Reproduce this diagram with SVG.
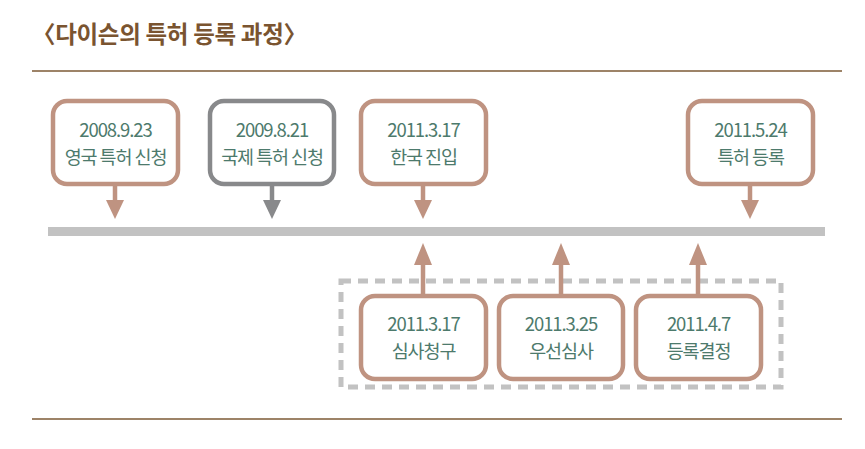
<svg xmlns="http://www.w3.org/2000/svg" width="865" height="449" viewBox="0 0 865 449">
<style>
.t{font-family:"Noto Sans CJK KR","Noto Sans",sans-serif;font-size:18.5px;fill:#4d7a6c;text-anchor:middle;letter-spacing:-1.1px}
.b{fill:#fff;stroke:#bf9381;stroke-width:4.5}
.g{fill:#fff;stroke:#88898b;stroke-width:4.5}
.ls{stroke:#bf9381;stroke-width:4.5}
.gs{stroke:#88898b;stroke-width:4.5}
</style>
<rect width="865" height="449" fill="#fff"/>
<text x="32" y="43" font-family="'Noto Sans CJK KR',sans-serif" font-size="23.5" font-weight="bold" fill="#7a5430" letter-spacing="-0.3">〈다이슨의 특허 등록 과정〉</text>
<line x1="32" y1="71" x2="842" y2="71" stroke="#7d5a36" stroke-width="1.4"/>
<line x1="32" y1="419" x2="842" y2="419" stroke="#7d5a36" stroke-width="1.4"/>
<rect x="48" y="227" width="777" height="9" fill="#c2c2c2"/>
<rect x="341" y="281" width="440" height="106" fill="none" stroke="#c2c2c2" stroke-width="5" stroke-dasharray="10 7"/>
<g id="connectors">
<line class="ls" x1="115" y1="184" x2="115" y2="202"/><polygon points="106,200 124,200 115,219" fill="#bf9381"/>
<line class="gs" x1="272" y1="184" x2="272" y2="202"/><polygon points="263,200 281,200 272,219" fill="#88898b"/>
<line class="ls" x1="423" y1="184" x2="423" y2="202"/><polygon points="414,200 432,200 423,219" fill="#bf9381"/>
<line class="ls" x1="750" y1="184" x2="750" y2="202"/><polygon points="741,200 759,200 750,219" fill="#bf9381"/>
<line class="ls" x1="423" y1="296" x2="423" y2="262"/><polygon points="414,265 432,265 423,243" fill="#bf9381"/>
<line class="ls" x1="561" y1="296" x2="561" y2="262"/><polygon points="552,265 570,265 561,243" fill="#bf9381"/>
<line class="ls" x1="698" y1="296" x2="698" y2="262"/><polygon points="689,265 707,265 698,243" fill="#bf9381"/>
</g>
<g id="n1"><rect class="b" x="53" y="101" width="125" height="83" rx="14"/><text class="t" x="115.5" y="137">2008.9.23</text><text class="t" x="115.5" y="164">영국 특허 신청</text></g>
<g id="n2"><rect class="g" x="210" y="101" width="124" height="83" rx="14"/><text class="t" x="272" y="137">2009.8.21</text><text class="t" x="272" y="164">국제 특허 신청</text></g>
<g id="n3"><rect class="b" x="361" y="101" width="125" height="83" rx="14"/><text class="t" x="423.5" y="137">2011.3.17</text><text class="t" x="423.5" y="164">한국 진입</text></g>
<g id="n4"><rect class="b" x="688" y="101" width="125" height="83" rx="14"/><text class="t" x="750.5" y="137">2011.5.24</text><text class="t" x="750.5" y="164">특허 등록</text></g>
<g id="n5"><rect class="b" x="361" y="296" width="125" height="83" rx="14"/><text class="t" x="423.5" y="331">2011.3.17</text><text class="t" x="423.5" y="358">심사청구</text></g>
<g id="n6"><rect class="b" x="499" y="296" width="124" height="83" rx="14"/><text class="t" x="561" y="331">2011.3.25</text><text class="t" x="561" y="358">우선심사</text></g>
<g id="n7"><rect class="b" x="636" y="296" width="125" height="83" rx="14"/><text class="t" x="698.5" y="331">2011.4.7</text><text class="t" x="698.5" y="358">등록결정</text></g>
</svg>
